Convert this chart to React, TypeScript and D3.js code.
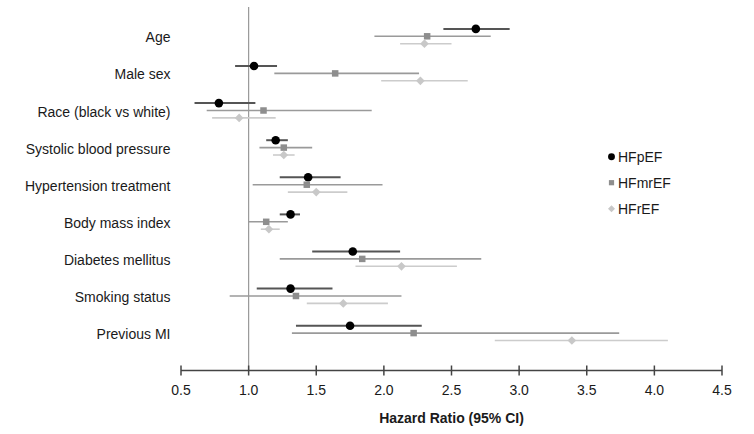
import React from "react";
import * as d3 from "d3";

const categories = [
  "Age",
  "Male sex",
  "Race (black vs white)",
  "Systolic blood pressure",
  "Hypertension treatment",
  "Body mass index",
  "Diabetes mellitus",
  "Smoking status",
  "Previous MI",
];

const hfpefHR = [2.68, 1.04, 0.78, 1.2, 1.44, 1.31, 1.77, 1.31, 1.75];
const hfpefLo = [2.44, 0.9, 0.6, 1.13, 1.23, 1.23, 1.47, 1.06, 1.35];
const hfpefHi = [2.93, 1.21, 1.05, 1.29, 1.68, 1.38, 2.12, 1.62, 2.28];

const hfmrefHR = [2.32, 1.64, 1.11, 1.26, 1.43, 1.13, 1.84, 1.35, 2.22];
const hfmrefLo = [1.93, 1.19, 0.69, 1.08, 1.03, 1.0, 1.23, 0.86, 1.32];
const hfmrefHi = [2.79, 2.26, 1.91, 1.47, 1.99, 1.29, 2.72, 2.13, 3.74];

const hfrefHR = [2.3, 2.27, 0.93, 1.26, 1.5, 1.15, 2.13, 1.7, 3.39];
const hfrefLo = [2.12, 1.98, 0.73, 1.18, 1.29, 1.09, 1.79, 1.43, 2.82];
const hfrefHi = [2.5, 2.62, 1.2, 1.34, 1.73, 1.23, 2.54, 2.03, 4.1];

const seriesNames = ["HFpEF", "HFmrEF", "HFrEF"];
const tickValues = [0.5, 1.0, 1.5, 2.0, 2.5, 3.0, 3.5, 4.0, 4.5];

const FONT = "'Liberation Sans', Arial, Helvetica, sans-serif";

export default function App() {
  const width = 754;
  const height = 434;
  const x = d3.scaleLinear().domain([0.5, 4.5]).range([181, 722]);
  const y = d3.scalePoint<string>().domain(categories).range([36.3, 333.1]);
  const axisY = 370.5;
  const offset = 7.4;

  const series = [
    { name: seriesNames[0], hr: hfpefHR, lo: hfpefLo, hi: hfpefHi, line: "#555", fill: "#000", lw: 2, dy: -offset, shape: "circle" },
    { name: seriesNames[1], hr: hfmrefHR, lo: hfmrefLo, hi: hfmrefHi, line: "#9a9a9a", fill: "#8e8e8e", lw: 1.6, dy: 0, shape: "square" },
    { name: seriesNames[2], hr: hfrefHR, lo: hfrefLo, hi: hfrefHi, line: "#cccccc", fill: "#c8c8c8", lw: 1.6, dy: offset, shape: "diamond" },
  ];

  const marker = (shape: string, cx: number, cy: number, fill: string, scale = 1) => {
    if (shape === "circle") return <circle cx={cx} cy={cy} r={4.3 * scale} fill={fill} />;
    if (shape === "square") {
      const s = 6.5 * scale;
      return <rect x={cx - s / 2} y={cy - s / 2} width={s} height={s} fill={fill} />;
    }
    const sym = d3.symbol().type(d3.symbolDiamond2).size(48 * scale * scale)();
    return <path d={sym || ""} transform={`translate(${cx},${cy})`} fill={fill} />;
  };

  return (
    <svg
      width={width}
      height={height}
      style={{ position: "absolute", left: 0, top: 0, background: "#fff" }}
      fontFamily={FONT}
    >
      <rect width={width} height={height} fill="#fff" />
      <line x1={x(1)} x2={x(1)} y1={7} y2={axisY} stroke="#999" strokeWidth={1.2} />

      {categories.map((c) => (
        <text key={c} x={170.5} y={(y(c) as number) + 6} textAnchor="end" fontSize={14} fill="#1a1a1a">
          {c}
        </text>
      ))}

      {series.map((s) => (
        <g key={s.name}>
          {categories.map((c, i) => {
            const cy = (y(c) as number) + s.dy;
            return (
              <g key={c}>
                <line x1={x(s.lo[i])} x2={x(s.hi[i])} y1={cy} y2={cy} stroke={s.line} strokeWidth={s.lw} />
                {marker(s.shape, x(s.hr[i]), cy, s.fill)}
              </g>
            );
          })}
        </g>
      ))}

      <line x1={x(0.5)} x2={x(4.5)} y1={axisY} y2={axisY} stroke="#444" strokeWidth={1.5} />
      {tickValues.map((t) => (
        <g key={t}>
          <line x1={x(t)} x2={x(t)} y1={axisY - 5} y2={axisY + 5} stroke="#444" strokeWidth={1.5} />
          <text x={x(t)} y={395} textAnchor="middle" fontSize={14} fill="#1a1a1a">
            {d3.format(".1f")(t)}
          </text>
        </g>
      ))}
      <text x={x(2.5)} y={423} textAnchor="middle" fontSize={14} fontWeight="bold" fill="#1a1a1a">
        Hazard Ratio (95% CI)
      </text>

      {series.map((s, i) => {
        const ly = 156.7 + i * 26;
        return (
          <g key={s.name}>
            {marker(s.shape, 611.5, ly, s.fill, 0.8)}
            <text x={618} y={ly + 5} fontSize={14} fill="#1a1a1a">
              {s.name}
            </text>
          </g>
        );
      })}
    </svg>
  );
}
